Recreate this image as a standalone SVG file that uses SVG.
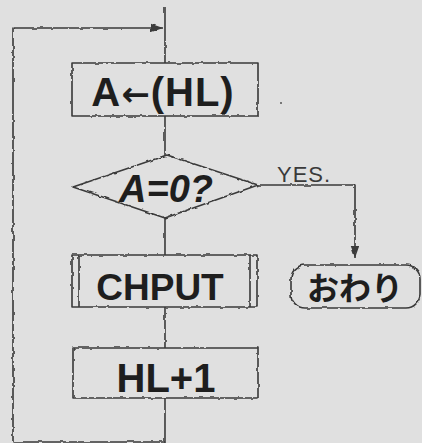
<svg xmlns="http://www.w3.org/2000/svg" width="422" height="443" viewBox="0 0 422 443">
<style>
.ln{fill:none;stroke:#3a3a3a;stroke-width:1.6;stroke-linejoin:round}
.t{font-family:"Liberation Sans","Noto Sans CJK JP",sans-serif;font-weight:bold;fill:#1e1e1e;text-anchor:middle}
.y{font-family:"Liberation Sans",sans-serif;fill:#3a3a3a;font-size:22px;letter-spacing:1px}
</style>
<defs>
<filter id="wob" x="-5%" y="-5%" width="110%" height="110%">
<feTurbulence type="fractalNoise" baseFrequency="0.18" numOctaves="1" seed="3" result="n"/>
<feDisplacementMap in="SourceGraphic" in2="n" scale="3.2" xChannelSelector="R" yChannelSelector="G"/>
</filter>
<marker id="ah2" viewBox="0 0 10 10" refX="10" refY="5" markerWidth="12" markerHeight="12" orient="auto" markerUnits="userSpaceOnUse">
<path d="M0,1.5 L10,5 L0,8.5 Z" fill="#3a3a3a"/>
</marker>
</defs>
<rect width="422" height="443" fill="#e0e0e0"/>
<g id="connectors" filter="url(#wob)">
<path class="ln" d="M165,7 V63"/>
<path class="ln" d="M165,116 V155"/>
<path class="ln" d="M165,218 V255"/>
<path class="ln" d="M165,307 V348"/>
<path class="ln" d="M165,398 V443"/>
<path class="ln" d="M165,442 H13 V28 H163" marker-end="url(#ah2)"/>
<path class="ln" d="M258,185 H355 V258" marker-end="url(#ah2)"/>
</g>
<text class="y" x="277" y="182">YES.</text>
<g id="n1">
<rect class="ln" x="72" y="63" width="186" height="53" filter="url(#wob)"/>
<text class="t" x="163" y="106" font-size="40" letter-spacing="1">A<tspan font-family="DejaVu Sans" font-size="34">←</tspan>(HL)</text>
<circle cx="281" cy="103" r="1" fill="#555"/>
</g>
<g id="n2">
<path class="ln" d="M73,187 L167,155 L258,185 L165,218 Z" filter="url(#wob)"/>
<text class="t" x="166" y="202" font-size="38" font-style="italic">A=0?</text>
</g>
<g id="n3">
<g filter="url(#wob)">
<rect class="ln" x="72" y="255" width="185" height="52"/>
<path class="ln" d="M79,255 V307 M250,255 V307"/>
</g>
<text class="t" x="160" y="300" font-size="37">CHPUT</text>
</g>
<g id="n4">
<rect class="ln" x="291" y="265" width="129" height="43" rx="14" filter="url(#wob)"/>
<text class="t" x="355" y="300" font-size="32">おわり</text>
</g>
<g id="n5">
<rect class="ln" x="73" y="348" width="185" height="50" filter="url(#wob)"/>
<text class="t" x="166" y="392" font-size="40">HL+1</text>
</g>
</svg>
